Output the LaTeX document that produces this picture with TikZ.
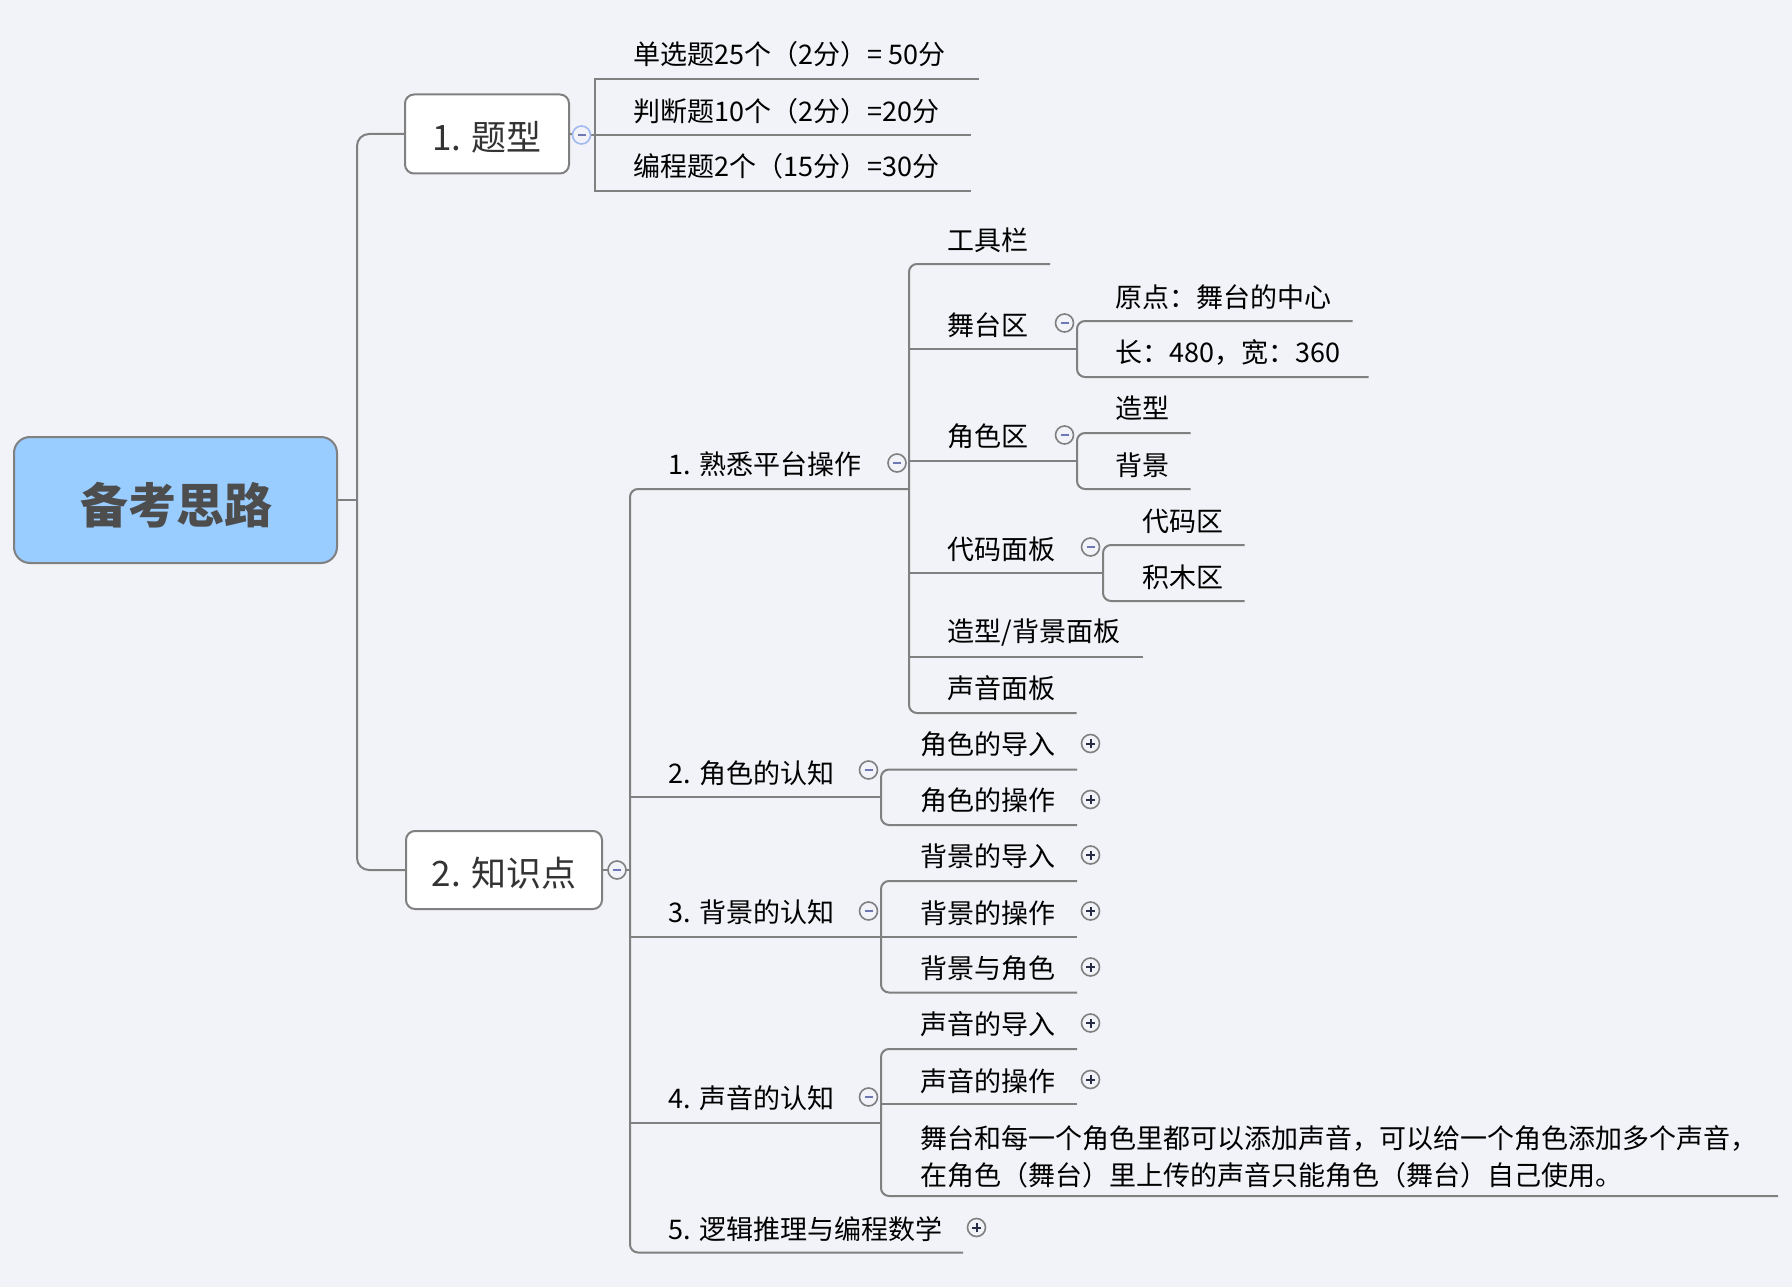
\documentclass[tikz,border=0pt]{standalone}
\usepackage{fontspec}
\setmainfont{Noto Sans CJK SC}
\definecolor{bg}{RGB}{242,243,248}
\definecolor{linegray}{RGB}{128,128,128}
\definecolor{rootfill}{RGB}{153,204,255}
\definecolor{roottext}{RGB}{77,77,77}
\definecolor{topictext}{RGB}{51,51,51}
\definecolor{minuscol}{RGB}{110,120,180}
\definecolor{pluscol}{RGB}{40,45,70}
\definecolor{hoverblue}{RGB}{160,185,240}
\newcommand\mycollapse[3]{\node[circ,#3] (#1) at (#2) {};
  \draw[signminus] ([xshift=-4pt]#1.center) -- ([xshift=4pt]#1.center);}
\newcommand\myexpand[2]{\node[circ] (#1) at (#2) {};
  \draw[signplus] ([xshift=-4.5pt]#1.center) -- ([xshift=4.5pt]#1.center);
  \draw[signplus] ([yshift=-4.5pt]#1.center) -- ([yshift=4.5pt]#1.center);}
\begin{document}
\begin{tikzpicture}[x=1pt,y=-1pt,
  conn/.style={draw=linegray, line width=2pt},
  br/.style={conn, rounded corners=8pt},
  txt/.style={anchor=west, inner sep=0pt, font=\fontsize{27}{32}\selectfont, text=black},
  topicbox/.style={draw=linegray, line width=2pt, fill=white, rounded corners=9pt, inner sep=0pt},
  topiclabel/.style={font=\fontsize{35}{40}\selectfont, text=topictext, inner sep=0pt},
  circ/.style={circle, draw=linegray, line width=1.6pt, fill=bg, minimum size=18pt, inner sep=0pt},
  signminus/.style={draw=minuscol, line width=2pt},
  signplus/.style={draw=pluscol, line width=2pt}]
\useasboundingbox (0,0) rectangle (1792,1287);
\fill[bg] (0,0) rectangle (1792,1287);

% ---------- nodes ----------
\node[draw=linegray, line width=2pt, fill=rootfill, rounded corners=16pt,
  minimum width=323pt, minimum height=126pt, inner sep=0pt] (root) at (175.5,500) {};
\node[font=\fontsize{48}{54}\selectfont\bfseries, text=roottext, inner sep=0pt] (rootlabel) at (176,505) {备考思路};
\node[topicbox, minimum width=164pt, minimum height=79pt] (t1) at (487,134) {};
\node[topiclabel] (t1label) at (487,137) {1. 题型};
\node[topicbox, minimum width=196pt, minimum height=78pt] (t2) at (504,870) {};
\node[topiclabel] (t2label) at (504,873) {2. 知识点};

% ---------- connectors: root ----------
\draw[conn] (root.east) -- (357,500);
\draw[conn, rounded corners=12pt] (t1.west) -- (357,134) -- (357,870) -- (t2.west);

% ---------- topic 1 ----------
\draw[conn] (t1.east) -- (580,135);
\draw[conn] (580,135) -- (595,135) -- (971,135);
\draw[conn] (979,79) -- (595,79) -- (595,191) -- (971,191);
\node[txt] (q1) at (633,54) {单选题25个（2分）=\ 50分};
\node[txt] (q2) at (633,111) {判断题10个（2分）=20分};
\node[txt] (q3) at (633,166.5) {编程题2个（15分）=30分};

% ---------- topic 2 ----------
\draw[conn] (t2.east) -- (630,870);
\draw[br] (909,489) -- (630,489) -- (630,1252.5) -- (963,1252.5);
\draw[conn] (630,797) -- (881,797);
\draw[conn] (630,937) -- (881,937);
\draw[conn] (630,1122.5) -- (881,1122.5);

\node[txt] (k1) at (668.5,464.5) {1. 熟悉平台操作};
\node[txt] (k2) at (668.5,773) {2. 角色的认知};
\node[txt] (k3) at (668.5,912.5) {3. 背景的认知};
\node[txt] (k4) at (668.5,1098.5) {4. 声音的认知};
\node[txt] (k5) at (668.5,1229) {5. 逻辑推理与编程数学};

% level 3 under k1
\draw[br] (1050,264) -- (909,264) -- (909,713) -- (1076.5,713);
\draw[conn] (909,349) -- (1077,349);
\draw[conn] (909,461) -- (1077,461);
\draw[conn] (909,573) -- (1103,573);
\draw[conn] (909,657) -- (1143,657);
\node[txt] (a1) at (947.5,240.5) {工具栏};
\node[txt] (a2) at (947.5,325) {舞台区};
\node[txt] (a3) at (947.5,436) {角色区};
\node[txt] (a4) at (947.5,549) {代码面板};
\node[txt] (a5) at (947.5,633) {造型/背景面板};
\node[txt] (a6) at (947.5,688.5) {声音面板};

% level 4
\draw[br] (1352.5,321) -- (1077,321) -- (1077,377) -- (1368.5,377);
\node[txt] (b1) at (1115.5,297) {原点：舞台的中心};
\node[txt] (b2) at (1115.5,352) {长：480，宽：360};
\draw[br] (1190.5,433) -- (1077,433) -- (1077,489) -- (1190.5,489);
\node[txt] (b3) at (1115.5,408.5) {造型};
\node[txt] (b4) at (1115.5,465.5) {背景};
\draw[br] (1244.5,545) -- (1103,545) -- (1103,601) -- (1244.5,601);
\node[txt] (b5) at (1142,521.5) {代码区};
\node[txt] (b6) at (1142,577.5) {积木区};

% level 3 under k2
\draw[br] (1077,769.5) -- (881,769.5) -- (881,825) -- (1077,825);
\node[txt] (c1t) at (920,744.5) {角色的导入};
\node[txt] (c2t) at (920,800.5) {角色的操作};

% level 3 under k3
\draw[br] (1077,881) -- (881,881) -- (881,992.5) -- (1077,992.5);
\draw[conn] (881,937) -- (1077,937);
\node[txt] (d1) at (920,856.5) {背景的导入};
\node[txt] (d2) at (920,913) {背景的操作};
\node[txt] (d3) at (920,968.5) {背景与角色};

% level 3 under k4
\draw[br] (1077,1049) -- (881,1049) -- (881,1196) -- (1778,1196);
\draw[conn] (881,1104) -- (1077,1104);
\node[txt] (e1) at (920,1024.5) {声音的导入};
\node[txt] (e2) at (920,1081.5) {声音的操作};
\node[txt, align=left, font=\fontsize{27}{37}\selectfont] (e3) at (920,1156.5)
  {舞台和每一个角色里都可以添加声音，可以给一个角色添加多个声音，\\在角色（舞台）里上传的声音只能角色（舞台）自己使用。};

% ---------- collapse / expand markers ----------
\mycollapse{m0}{581.5,135}{draw=hoverblue}
\mycollapse{m1}{617,870}{}
\mycollapse{m2}{897,463}{}
\mycollapse{m3}{1064.5,323}{}
\mycollapse{m4}{1064.5,435}{}
\mycollapse{m5}{1090.5,547}{}
\mycollapse{m6}{868.5,770}{}
\mycollapse{m7}{868.5,911}{}
\mycollapse{m8}{868.5,1097}{}
\myexpand{p1}{1090.5,743.5}
\myexpand{p2}{1090.5,799.5}
\myexpand{p3}{1090.5,855}
\myexpand{p4}{1090.5,911}
\myexpand{p5}{1090.5,967}
\myexpand{p6}{1090.5,1023}
\myexpand{p7}{1090.5,1079.5}
\myexpand{p8}{976.5,1227.5}
\end{tikzpicture}
\end{document}
